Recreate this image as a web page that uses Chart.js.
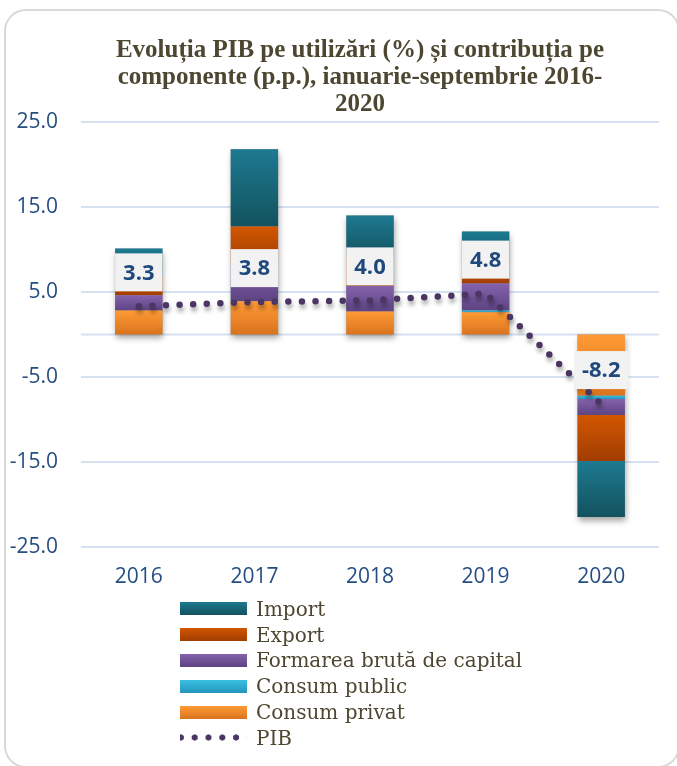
<!DOCTYPE html>
<html>
<head>
<meta charset="utf-8">
<script src="https://cdn.jsdelivr.net/npm/chart.js@4.4.1/dist/chart.umd.min.js"></script>
<style>
  html, body { margin: 0; padding: 0; background: #fff; }
  #page { position: relative; width: 677px; height: 766px; overflow: hidden; }
  #card { position: absolute; left: 4px; top: 9px; width: 676px; height: 759px; box-sizing: border-box;
          border: 2px solid #d9d9d9; border-radius: 22px; }
  #chart { position: absolute; left: 0; top: 0; }
  #title { position: absolute; left: 40px; width: 640px; top: 35px; text-align: center; white-space: nowrap;
           font: bold 25px "Liberation Serif", serif; line-height: 27px; color: #4d4731; }
  #legend { position: absolute; left: 180px; top: 596px; font: 20px "DejaVu Serif", serif; color: #4d4731; }
  .legend-row { display: flex; align-items: center; height: 25.8px; white-space: nowrap; }
  .legend-swatch { width: 67px; height: 13px; margin-right: 9px; flex: none; }
</style>
</head>
<body>
<div id="page">
  <div id="card"></div>
  <canvas id="chart" width="677" height="620"></canvas>
  <div id="title">Evoluția PIB pe utilizări (%) și contribuția pe<br>componente (p.p.), ianuarie-septembrie 2016-<br>2020</div>
  <div id="legend"></div>
</div>
<script>
'use strict';

// data (p.p. contributions, stacked bottom to top)
var categories      = ['2016', '2017', '2018', '2019', '2020'];
var consumPrivat    = [2.8, 3.9, 2.7, 2.6, -7.2];
var consumPublic    = [0.0, 0.0, 0.0, 0.2, -0.4];
var formareaCapital = [1.8, 4.4, 3.0, 3.2, -1.9];
var exportVal       = [2.1, 4.4, 3.3, 2.4, -5.4];
var importVal       = [3.4, 9.1, 5.0, 3.7, -6.6];
var pib             = [3.3, 3.8, 4.0, 4.8, -8.2];
var yTicks          = [-25, -15, -5, 5, 15, 25];

var AXIS_BLUE = '#264e82';
var PIB_COLOR = '#4a3563';

var barSeries = [
    { label: 'Consum privat',               data: consumPrivat,    colors: ['#ff9a35', '#d9741f'] },
    { label: 'Consum public',               data: consumPublic,    colors: ['#38bfe2', '#2596bb'] },
    { label: 'Formarea brută de capital',   data: formareaCapital, colors: ['#8462ac', '#5d4482'] },
    { label: 'Export',                      data: exportVal,       colors: ['#d25700', '#a13d02'] },
    { label: 'Import',                      data: importVal,       colors: ['#1d7a90', '#13525f'] }
];

/**
 * Vertical gradient for one stacked segment (light top, dark bottom)
 */
function segmentGradient(k) {
    return function (ctx) {
        var series = barSeries[k];
        var chart  = ctx.chart;
        var y      = chart.scales.y;
        if (ctx.type !== 'data' || !y) {
            return series.colors[0];
        }
        var i = ctx.dataIndex;
        var pos = 0, neg = 0, start = 0, end = 0;
        for (var s = 0; s <= k; s++) {
            var v = barSeries[s].data[i];
            if (v >= 0) { start = pos; pos += v; end = pos; }
            else        { start = neg; neg += v; end = neg; }
        }
        var top    = y.getPixelForValue(Math.max(start, end));
        var bottom = y.getPixelForValue(Math.min(start, end));
        if (!isFinite(top) || !isFinite(bottom) || bottom - top < 1) {
            return series.colors[0];
        }
        var g = chart.ctx.createLinearGradient(0, top, 0, bottom);
        g.addColorStop(0, series.colors[0]);
        g.addColorStop(1, series.colors[1]);
        return g;
    };
}

var datasets = barSeries.map(function (s, k) {
    return {
        type: 'bar',
        label: s.label,
        data: s.data,
        backgroundColor: segmentGradient(k),
        borderWidth: 0,
        barPercentage: 0.41,
        categoryPercentage: 1
    };
});

datasets.push({
    type: 'line',
    label: 'PIB',
    data: pib,
    order: -1,
    borderColor: PIB_COLOR,
    borderWidth: 6.5,
    borderDash: [0, 13.6],
    borderCapStyle: 'round',
    pointRadius: 0,
    tension: 0,
    fill: false
});

// zero line + soft shadow under each full bar
var barBackdrop = {
    id: 'barBackdrop',
    beforeDatasetsDraw: function (chart) {
        var ctx  = chart.ctx;
        var area = chart.chartArea;
        var y0   = chart.scales.y.getPixelForValue(0);

        ctx.save();
        ctx.strokeStyle = '#d6e2f1';
        ctx.lineWidth = 2;
        ctx.beginPath();
        ctx.moveTo(area.left, y0);
        ctx.lineTo(area.right, y0);
        ctx.stroke();

        ctx.shadowColor = 'rgba(0,0,0,0.35)';
        ctx.shadowBlur = 6;
        ctx.shadowOffsetX = 1;
        ctx.shadowOffsetY = 4;
        ctx.fillStyle = '#999';
        categories.forEach(function (c, i) {
            var top = Infinity, bottom = -Infinity, x = 0, w = 0;
            barSeries.forEach(function (s, k) {
                var el = chart.getDatasetMeta(k).data[i];
                if (!el) { return; }
                x = el.x; w = el.width;
                top = Math.min(top, el.y, el.base);
                bottom = Math.max(bottom, el.y, el.base);
            });
            if (isFinite(top)) {
                ctx.fillRect(x - w / 2, top, w, bottom - top);
            }
        });
        ctx.restore();
    }
};

// blurred shadow behind the PIB dots
var lineShadow = {
    id: 'lineShadow',
    beforeDatasetDraw: function (chart, args) {
        if (args.meta.type !== 'line') { return; }
        chart.ctx.save();
        chart.ctx.shadowColor = 'rgba(0,0,0,0.35)';
        chart.ctx.shadowBlur = 4;
        chart.ctx.shadowOffsetX = 1;
        chart.ctx.shadowOffsetY = 4;
    },
    afterDatasetDraw: function (chart, args) {
        if (args.meta.type !== 'line') { return; }
        chart.ctx.restore();
    }
};

// value boxes above the PIB points
var pibLabels = {
    id: 'pibLabels',
    afterDatasetsDraw: function (chart) {
        var ctx  = chart.ctx;
        var meta = chart.getDatasetMeta(barSeries.length);
        ctx.save();
        ctx.font = 'bold 22px "Open Sans", sans-serif';
        ctx.textAlign = 'center';
        ctx.textBaseline = 'middle';
        meta.data.forEach(function (pt, i) {
            var txt = pib[i].toFixed(1);
            var w   = ctx.measureText(txt).width + 16;
            var h   = 38;
            var cy  = pt.y - 34;
            ctx.fillStyle = '#f2f2f2';
            ctx.fillRect(pt.x - w / 2, cy - h / 2, w, h);
            ctx.fillStyle = '#1f497d';
            ctx.fillText(txt, pt.x, cy + 1);
        });
        ctx.restore();
    }
};

var chart = new Chart(document.getElementById('chart'), {
    type: 'bar',
    data: { labels: categories, datasets: datasets },
    plugins: [barBackdrop, lineShadow, pibLabels],
    options: {
        responsive: false,
        animation: false,
        devicePixelRatio: 1,
        layout: { padding: { top: 122, right: 18, bottom: 12, left: 0 } },
        plugins: {
            legend: { display: false },
            title: { display: false },
            tooltip: { enabled: false }
        },
        scales: {
            x: {
                stacked: true,
                grid: { display: false, drawTicks: false },
                border: { display: false },
                ticks: { color: AXIS_BLUE, padding: 18, font: { family: 'Open Sans', size: 21 } }
            },
            y: {
                stacked: true,
                min: yTicks[0],
                max: yTicks[yTicks.length - 1],
                afterFit: function (scale) { scale.width = 81; },
                grid: { color: '#d6e2f1', lineWidth: 2, drawTicks: false },
                border: { display: false },
                ticks: {
                    stepSize: yTicks[1] - yTicks[0],
                    padding: 23,
                    color: AXIS_BLUE,
                    font: { family: 'Open Sans', size: 21 },
                    callback: function (v) { return Number(v).toFixed(1); }
                }
            }
        }
    }
});

// legend, top to bottom as in the stack
var legend = document.getElementById('legend');
barSeries.slice().reverse().forEach(function (s) {
    var row = document.createElement('div');
    row.className = 'legend-row';
    var sw = document.createElement('span');
    sw.className = 'legend-swatch';
    sw.style.background = 'linear-gradient(' + s.colors[0] + ', ' + s.colors[1] + ')';
    var tx = document.createElement('span');
    tx.textContent = s.label;
    row.appendChild(sw);
    row.appendChild(tx);
    legend.appendChild(row);
});
var pibRow = document.createElement('div');
pibRow.className = 'legend-row';
var pibSw = document.createElement('span');
pibSw.className = 'legend-swatch';
pibSw.style.background = 'radial-gradient(circle, ' + PIB_COLOR + ' 2.8px, transparent 3.4px) -6px 0 / 13.8px 13px repeat-x';
var pibTx = document.createElement('span');
pibTx.textContent = 'PIB';
pibRow.appendChild(pibSw);
pibRow.appendChild(pibTx);
legend.appendChild(pibRow);
</script>
</body>
</html>
